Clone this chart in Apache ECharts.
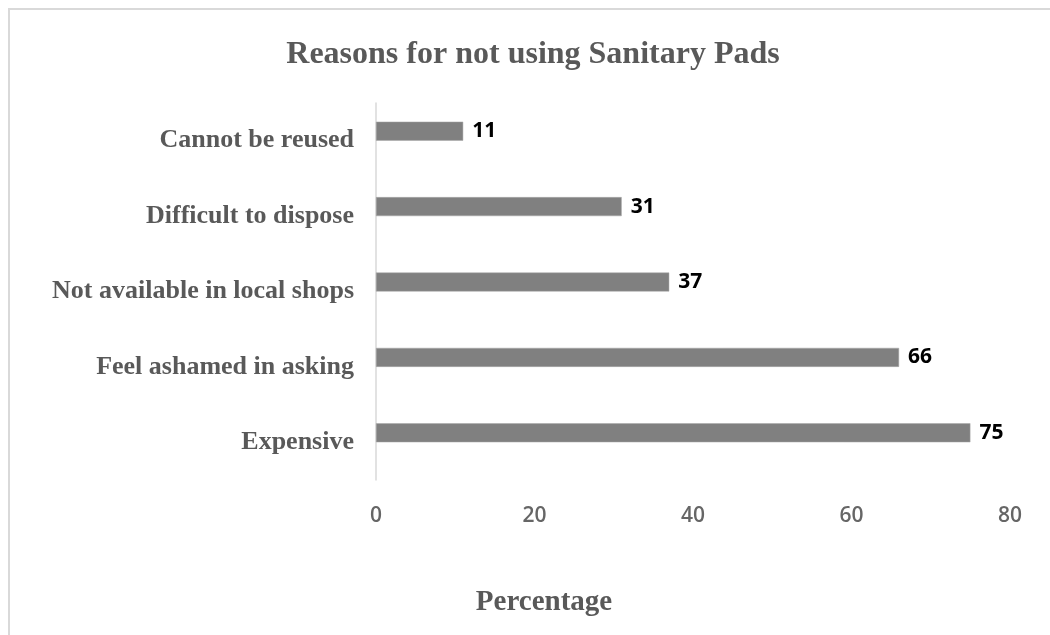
<!DOCTYPE html>
<html>
<head>
<meta charset="utf-8">
<script src="https://cdn.jsdelivr.net/npm/echarts@6/dist/echarts.min.js"></script>
<style>
  html, body { margin: 0; padding: 0; background: #fff; }
  #chart { width: 1050px; height: 635px; }
</style>
</head>
<body>
<div id="chart"></div>
<script>
// categories listed from top to bottom
var categories = ['Cannot be reused', 'Difficult to dispose', 'Not available in local shops', 'Feel ashamed in asking', 'Expensive'];
var percentages = [11, 31, 37, 66, 75];
var xTicks = { min: 0, max: 80, interval: 20 };

var serif = '"Liberation Serif", "Times New Roman", serif';
var sans = '"Open Sans", "Noto Sans", sans-serif';

var chart = echarts.init(document.getElementById('chart'));
var option = {
  animation: false,
  backgroundColor: '#fff',
  title: [
    {
      text: 'Reasons for not using Sanitary Pads',
      left: 528, top: 34, textAlign: 'center',
      textStyle: { fontFamily: serif, fontWeight: 'bold', fontSize: 32, color: '#595959' }
    },
    {
      text: 'Percentage',
      left: 539, top: 583, textAlign: 'center',
      textStyle: { fontFamily: serif, fontWeight: 'bold', fontSize: 29, color: '#595959' }
    }
  ],
  graphic: [
    { type: 'line', shape: { x1: 8, y1: 9, x2: 1050, y2: 9 }, style: { stroke: '#d9d9d9', lineWidth: 2 } },
    { type: 'line', shape: { x1: 9, y1: 8, x2: 9, y2: 635 }, style: { stroke: '#d9d9d9', lineWidth: 2 } }
  ],
  grid: { left: 376, right: 40, top: 103, bottom: 155, containLabel: false },
  xAxis: {
    type: 'value',
    min: xTicks.min, max: xTicks.max, interval: xTicks.interval,
    axisLine: { show: false },
    axisTick: { show: false },
    splitLine: { show: false },
    axisLabel: { margin: 26, fontFamily: sans, fontWeight: 600, fontSize: 21, color: '#666' }
  },
  yAxis: {
    type: 'category',
    inverse: true,
    data: categories,
    axisLine: { show: true, lineStyle: { color: '#d9d9d9', width: 1.5 } },
    axisTick: { show: false },
    axisLabel: {
      margin: 22, padding: [6, 0, 0, 0],
      fontFamily: serif, fontWeight: 'bold', fontSize: 26, color: '#595959'
    }
  },
  series: [
    {
      name: 'Percentage',
      type: 'bar',
      data: percentages,
      barWidth: 19,
      barGap: '0%',
      itemStyle: { color: '#808080', borderColor: '#a6a6a6', borderWidth: 0.5 },
      label: {
        show: true, position: 'right', distance: 9,
        fontFamily: sans, fontWeight: 'bold', fontSize: 21, color: '#000'
      }
    },
    {
      name: 'spacer',
      type: 'bar',
      data: [],
      barWidth: 19,
      silent: true
    }
  ]
};
chart.setOption(option);
</script>
</body>
</html>
